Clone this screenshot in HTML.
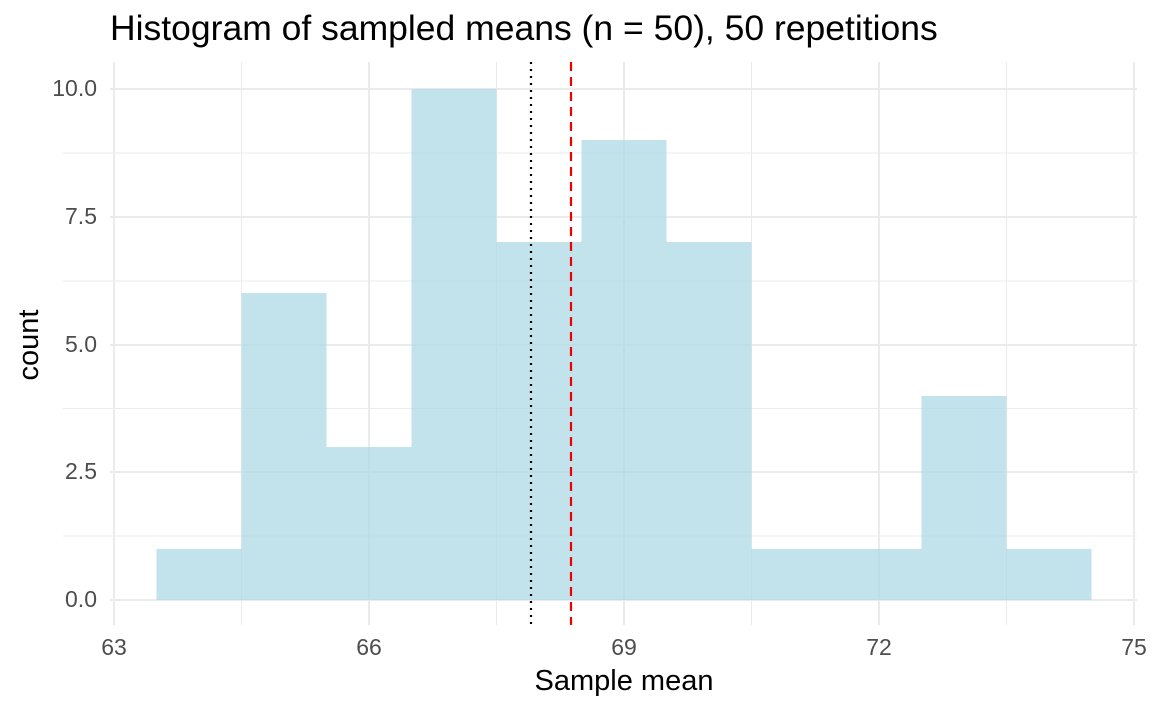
<!DOCTYPE html>
<html><head><meta charset="utf-8"><style>body{margin:0;background:#fff}svg{display:block}</style></head>
<body>
<svg width="1152" height="711" xmlns="http://www.w3.org/2000/svg" font-family="Liberation Sans, sans-serif">
<rect width="1152" height="711" fill="#fff"/>
<g stroke="#ebebeb" stroke-width="1">
<line x1="241.5" y1="62" x2="241.5" y2="625"/><line x1="496.5" y1="62" x2="496.5" y2="625"/>
<line x1="751.5" y1="62" x2="751.5" y2="625"/><line x1="1006.5" y1="62" x2="1006.5" y2="625"/>
<line x1="63" y1="536" x2="1137" y2="536"/><line x1="63" y1="408.5" x2="1137" y2="408.5"/>
<line x1="63" y1="281" x2="1137" y2="281"/><line x1="63" y1="153" x2="1137" y2="153"/>
</g>
<g stroke="#ebebeb" stroke-width="2">
<line x1="114" y1="62" x2="114" y2="625"/><line x1="369" y1="62" x2="369" y2="625"/>
<line x1="624" y1="62" x2="624" y2="625"/><line x1="879" y1="62" x2="879" y2="625"/>
<line x1="1134" y1="62" x2="1134" y2="625"/>
<line x1="110" y1="600" x2="1137" y2="600"/><line x1="110" y1="472" x2="1137" y2="472"/>
<line x1="110" y1="345" x2="1137" y2="345"/><line x1="110" y1="217" x2="1137" y2="217"/>
<line x1="110" y1="89" x2="1137" y2="89"/>
</g>
<g fill="#add8e6" fill-opacity="0.75">
<rect x="156.5" y="549" width="85" height="51"/>
<rect x="241.5" y="293" width="85" height="307"/>
<rect x="326.5" y="447" width="85" height="153"/>
<rect x="411.5" y="89" width="85" height="511"/>
<rect x="496.5" y="242" width="85" height="358"/>
<rect x="581.5" y="140" width="85" height="460"/>
<rect x="666.5" y="242" width="85" height="358"/>
<rect x="751.5" y="549" width="85" height="51"/>
<rect x="836.5" y="549" width="85" height="51"/>
<rect x="921.5" y="396" width="85" height="204"/>
<rect x="1006.5" y="549" width="85" height="51"/>
</g>
<line x1="531" y1="62" x2="531" y2="625" stroke="#000" stroke-width="2.2" stroke-dasharray="2,5"/>
<line x1="571" y1="62" x2="571" y2="625" stroke="#e00" stroke-width="2.2" stroke-dasharray="9,6"/>
<g fill="#4d4d4d" font-size="23" text-anchor="end">
<text x="97" y="607">0.0</text><text x="97" y="479">2.5</text><text x="97" y="352">5.0</text>
<text x="97" y="224">7.5</text><text x="97" y="96">10.0</text>
</g>
<g fill="#4d4d4d" font-size="23" text-anchor="middle">
<text x="114" y="655">63</text><text x="369" y="655">66</text><text x="624" y="655">69</text>
<text x="879" y="655">72</text><text x="1134" y="655">75</text>
</g>
<text x="624" y="690" font-size="29" text-anchor="middle" fill="#000">Sample mean</text>
<text transform="translate(38,345) rotate(-90)" font-size="29" text-anchor="middle" fill="#000">count</text>
<text x="110" y="40" font-size="35.5" fill="#000">Histogram of sampled means (n = 50), 50 repetitions</text>
</svg>
</body></html>
